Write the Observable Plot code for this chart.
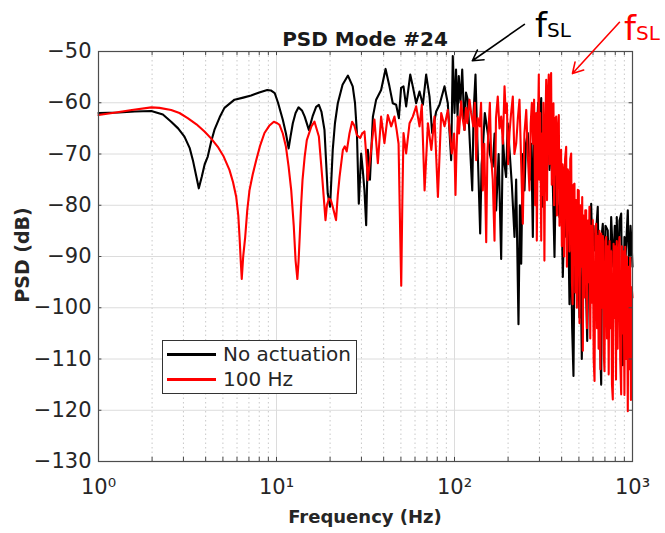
<!DOCTYPE html>
<html><head><meta charset="utf-8">
<script src="https://cdn.jsdelivr.net/npm/d3@7"></script>
<script src="https://cdn.jsdelivr.net/npm/@observablehq/plot@0.6"></script>
<style>
body{margin:0;background:#fff;}
#wrap{position:relative;width:665px;height:533px;font-family:"DejaVu Sans",sans-serif;color:#262626;overflow:hidden;}
#wrap svg{position:absolute;left:0;top:0;}
.ov{position:absolute;white-space:nowrap;line-height:1;}
#title{left:365px;top:29px;transform:translateX(-50%);font-weight:bold;font-size:20px;color:#1a1a1a;}
#xlab{left:365px;top:508px;transform:translateX(-50%);font-weight:bold;font-size:18px;}
#ylab{left:22px;top:255px;transform:translate(-50%,-50%) rotate(-90deg);font-weight:bold;font-size:19px;}
#legend{left:162px;top:340px;width:193px;height:52px;border:1px solid #333;background:#fff;}
.lrow{position:absolute;left:3px;height:24px;font-size:20px;color:#262626;}
.sw{position:absolute;left:1px;width:49px;height:3px;top:10px;}
.lt{position:absolute;left:57px;top:1px;}
.fsl{position:absolute;line-height:1;}
.fsl .f{font-size:34px;}
.fsl .s{font-size:20px;}
</style></head><body><div id="wrap"></div>
<script>
// ---- data ----
const seriesNames = ["No actuation", "100 Hz"];
const seriesColors = ["#000000", "#ff0000"];

const blackFreq = [1,1.3,1.6,1.98,2.3,2.56,2.8,3.04,3.25,3.39,3.55,3.66,3.8,3.95,4.11,4.3,4.48,4.8,5.1,5.81,6.5,7.2,8.0,8.87,9.3,9.77,10.2,10.85,11.3,11.7,12.0,12.35,12.8,13.3,13.9,14.4,15.2,16,16.7,17.3,17.9,18.6,19.4,20.0,20.7,21.3,22.1,23.5,25.2,26.8,27.6,28.3,29.0,29.9,30.5,31.2,31.9,32.6,33.5,34.8,36.3,38.7,41,43.1,45,47,48.7,50.1,51.7,53.5,56.4,58.3,60.9,63.6,66.4,69.3,72.4,74.9,78.9,82.4,87.9,91.7,95.8,97.8,100,102,104,105.7,108,110.5,113.8,116,118.8,122,125.8,128,131.2,133,135.3,139.4,142,144.2,148,153.8,158,164,168,171.4,177,182.9,186.9,191,195,199,203.7,210,217.3,222,228.8,233,237,242,247.3,252,258,265,270,275.5,280,287.8,295,300,307,313.5,320,328,335,342,349,356.6,364.6,372,380,389,397,406,415,424,433,442.6,450,458,466,472,478,482.6,490,503.6,510,519,526,530,540,549,556.6,563,570,577,586,595,604,612,625,638,650,667,675,681,695,705,726,740,759,780,795,809,816,830,845,864,882,901,915,941,960,975,990,1000];
const blackDb = [-62,-61.9,-61.7,-61.6,-62.3,-63.7,-65,-66.6,-68.8,-71.2,-74.5,-76.7,-74.5,-72,-70.5,-67.5,-65.3,-62.8,-61,-59.4,-59,-58.6,-58,-57.5,-57.6,-58.1,-60,-63.3,-66,-68.9,-66.5,-64,-62,-60.9,-61.5,-62.7,-65.3,-62.5,-60.8,-60.4,-61.8,-65.3,-77.7,-80.3,-69.2,-64,-60.1,-56.5,-54.7,-56.8,-60,-65.9,-79.7,-69.9,-73,-77.1,-83.9,-69.2,-75,-62.7,-59.4,-57.5,-53.4,-56.8,-60.1,-60.4,-63,-57.1,-56.8,-60.7,-54.5,-56.8,-60.1,-57.8,-60.4,-54.5,-58.8,-65.9,-61.7,-60.4,-56.8,-60.1,-71.2,-50.9,-62,-53.5,-62.7,-54.8,-60,-53.5,-65.3,-58,-59.4,-68,-77.1,-62,-54.5,-62,-70.5,-85.5,-72,-69.2,-62,-65.9,-70,-72.5,-66,-81,-70,-90.5,-66.6,-72,-74.5,-64,-69.2,-76,-86.2,-75,-103.2,-80,-91.4,-70,-77.1,-68,-65.9,-75,-68,-86.2,-62,-69.2,-60,-68,-59.1,-80.3,-66,-75,-63,-73.1,-68,-75.8,-90.1,-71,-80,-82.3,-74,-94,-80,-86.2,-78,-99.3,-84,-103.9,-113.3,-90,-88,-95.4,-85,-101.9,-88,-110,-96,-84,-92,-97.3,-106.5,-94,-83,-92,-79.7,-90,-84,-88.8,-85,-80.3,-100,-115,-85,-83.6,-95,-84,-84.9,-98,-82.3,-92,-84,-104.5,-82.3,-95,-83,-81.6,-111.2,-86.2,-90,-81,-95,-84,-88,-92];

const redFreq = [1,1.25,1.54,1.98,2.2,2.56,2.85,3.17,3.55,3.94,4.3,4.68,5.05,5.44,5.7,5.94,6.1,6.2,6.3,6.38,6.5,6.67,6.85,7.05,7.35,7.69,8.1,8.56,9.1,9.66,10.1,10.4,10.85,11.3,11.7,12.1,12.5,12.8,13.1,13.3,13.5,13.75,14.0,14.4,14.8,15.7,16.35,17.3,18.06,18.85,19.2,19.7,20.2,20.7,21.6,22.1,22.6,23.6,24.2,24.8,25.7,26.6,27.4,28.3,29.5,30.3,31.2,31.9,32.6,33.3,34.0,35.5,37.1,38.7,40.4,42.2,44.1,46,47.3,48.5,49.5,50.2,50.9,51.7,53.5,55.9,58.3,60.9,63.6,65.5,67.9,70.9,74.1,77.2,80.7,84.2,87.9,91.7,96.6,99.5,101.3,102.5,104.4,106,109,111,113.8,116,118,121.4,124,127.5,130,132.4,135,138.5,141,144.2,147,150.7,153,155.6,158,160.7,164,167.8,171,175,179,182.9,187,191,194,196.9,200,203.7,208,212.6,217,222.2,227,231.8,237,242,247,253,258,263.8,268,272,276,280,284,288,290,293,297.6,300,303,307,310,313,316,320,323,327.5,331,334,338.5,342,345,349,352,356,359.7,363,366,370,372.6,376,380,385.4,389,393,397,401,405,409.5,413,418,424,428,433,438.5,443,447,452.4,457,461,466,472,477,482,487,493,499,504,510,516,521.8,526,531,537,543,549,555,561,567,573,579,585,591,598,605,612,618,625.3,632,638,645,652,660,667,675,682,690,696,704,711.5,719,727,735,743,751,759,767,775,783,791,799,808,816,825,834,845,853,864,872,881,890,901,910,920,930,941,950,960,970,980,990,1000];
const redDb = [-62.4,-61.9,-61.4,-60.9,-61,-61.4,-62,-63,-64.2,-65.6,-67,-68.6,-70.5,-73.1,-75.5,-78.4,-82,-86.2,-91,-94.4,-90,-86.2,-81,-77.1,-74,-71.2,-68.3,-65.9,-64.5,-63.7,-64,-64.3,-66,-68.6,-72.5,-77.1,-84,-90.8,-94.4,-91,-86.2,-80,-75.1,-70.5,-67.3,-64.6,-63.7,-66.6,-74.5,-82.9,-80,-78.7,-79,-80.3,-82.9,-78,-74.5,-69.2,-68.5,-69.5,-66,-63.7,-64.5,-66.3,-66.9,-66,-65.6,-70,-75.1,-72,-69.2,-63.3,-71.8,-62.7,-67.9,-62.4,-64.6,-62.7,-65.3,-68,-85,-95.7,-80,-65.9,-69.9,-64,-62.7,-60.7,-64.6,-60.4,-77.1,-64,-69.2,-62.7,-78.4,-62,-64.6,-61.4,-69.9,-66,-78,-70,-62.7,-66,-59.7,-63,-65.3,-61,-64,-59.4,-62,-64.6,-60,-71.2,-63,-64.6,-60,-77.1,-68,-87.2,-70,-64.6,-60,-70.5,-75,-86.9,-63,-58.8,-65,-62.7,-68,-56.8,-62,-60.1,-72,-65.9,-62,-58.8,-70,-67.9,-63,-59.4,-72,-83.6,-66,-61.4,-70,-77.1,-64,-60,-68,-59.4,-80,-62,-86.9,-70,-54.5,-75,-62,-86.9,-66,-78,-60,-90.8,-68,-55.5,-79,-60,-54.5,-72,-58,-54.2,-76,-61,-60.1,-80,-63,-74,-62.7,-82,-66,-62.4,-84,-70,-69.2,-88,-72,-73.8,-90,-71,-68.6,-92,-73,-74.5,-89,-71,-69.9,-95,-99.3,-76,-75.8,-97,-79,-100,-77,-77.1,-103,-80,-92,-78.4,-108.4,-82,-98,-81,-81,-104,-83,-95,-80.3,-106,-84,-99,-82.9,-110,-114.3,-85,-83.6,-104,-86,-108,-85,-112,-85.5,-100,-86,-109,-112.4,-87,-86.2,-106,-88,-113,-87,-104,-89,-115,-117.9,-87.5,-102,-88,-114,-87,-108,-90,-86.2,-110,-116.9,-88,-105,-89,-117,-88.1,-110,-90,-120.2,-92,-112,-90.1,-118,-96,-98];

const yTicks = [-130,-120,-110,-100,-90,-80,-70,-60,-50];
const xTicks = [1,10,100,1000];
const xTickLabels = ["10\u2070","10\u00b9","10\u00b2","10\u00b3"];
const titleText = "PSD Mode #24";
const xLabel = "Frequency (Hz)";
const yLabel = "PSD (dB)";
// annotation arrows (frequency, dB) : tail -> head
const arrowTail = [[247,-44.7],[845,-44.3]];
const arrowHead = [[126,-51.8],[460,-54.3]];

// ---- build ----
const black = blackFreq.map((f,i)=>({f, db: blackDb[i]}));
const red = redFreq.map((f,i)=>({f, db: redDb[i]}));
const minor = [];
for (const d of [1,10,100]) for (let k=2;k<=9;k++) minor.push(d*k);
const arrows = arrowTail.map((t,i)=>({x1:t[0],y1:t[1],x2:arrowHead[i][0],y2:arrowHead[i][1],c:seriesColors[i]}));

const svg = Plot.plot({
  width: 665, height: 533,
  marginLeft: 98, marginRight: 33, marginTop: 51, marginBottom: 72,
  x: {type: "log", domain: [1, 1000], axis: null},
  y: {domain: [-130, -50], axis: null},
  style: {fontFamily: "DejaVu Sans", background: "transparent", overflow: "visible", color: "#262626"},
  marks: [
    Plot.ruleX(minor, {stroke: "#c8c8c8", strokeDasharray: "1.5,3", strokeWidth: 1}),
    Plot.ruleX([10, 100], {stroke: "#dcdcdc", strokeWidth: 1}),
    Plot.ruleY(yTicks.slice(1, -1), {stroke: "#dcdcdc", strokeWidth: 1}),
    Plot.line(black, {x: "f", y: "db", stroke: seriesColors[0], strokeWidth: 2.1}),
    Plot.line(red, {x: "f", y: "db", stroke: seriesColors[1], strokeWidth: 2.1}),
    Plot.ruleX(minor.concat(xTicks), {y1: -130, y2: -129.2, stroke: "#444"}),
    Plot.ruleX(minor.concat(xTicks), {y1: -50, y2: -50.8, stroke: "#444"}),
    Plot.ruleY(yTicks, {x1: 1, x2: 1.045, stroke: "#444"}),
    Plot.ruleY(yTicks, {x1: 1000, x2: 957, stroke: "#444"}),
    Plot.frame({stroke: "#4d4d4d", strokeWidth: 1.2}),
    Plot.axisY({ticks: yTicks, tickSize: 0, tickPadding: 7, fontSize: 21}),
    Plot.axisX({ticks: xTicks, tickSize: 0, tickPadding: 18, fontSize: 21, tickFormat: d => xTickLabels[xTicks.indexOf(d)]}),
    Plot.arrow(arrows, {x1: "x1", y1: "y1", x2: "x2", y2: "y2", stroke: "c", strokeWidth: 1.6, headLength: 11})
  ]
});

const wrap = document.getElementById("wrap");
wrap.appendChild(svg);

function ov(id, text) { const d = document.createElement("div"); d.className = "ov"; d.id = id; d.textContent = text; wrap.appendChild(d); return d; }
ov("title", titleText);
ov("xlab", xLabel);
ov("ylab", yLabel);

const leg = document.createElement("div"); leg.className = "ov"; leg.id = "legend";
seriesNames.forEach((n, i) => {
  const r = document.createElement("div"); r.className = "lrow"; r.style.top = (i * 25 + 2) + "px";
  const s = document.createElement("div"); s.className = "sw"; s.style.background = seriesColors[i];
  const t = document.createElement("div"); t.className = "lt"; t.textContent = n;
  r.appendChild(s); r.appendChild(t); leg.appendChild(r);
});
wrap.appendChild(leg);

const fslPos = [[535, 8], [624, 11]];
fslPos.forEach((p, i) => {
  const d = document.createElement("div"); d.className = "fsl";
  d.style.left = p[0] + "px"; d.style.top = p[1] + "px"; d.style.color = seriesColors[i];
  d.innerHTML = '<span class="f">f</span><span class="s">SL</span>';
  wrap.appendChild(d);
});
</script></body></html>
